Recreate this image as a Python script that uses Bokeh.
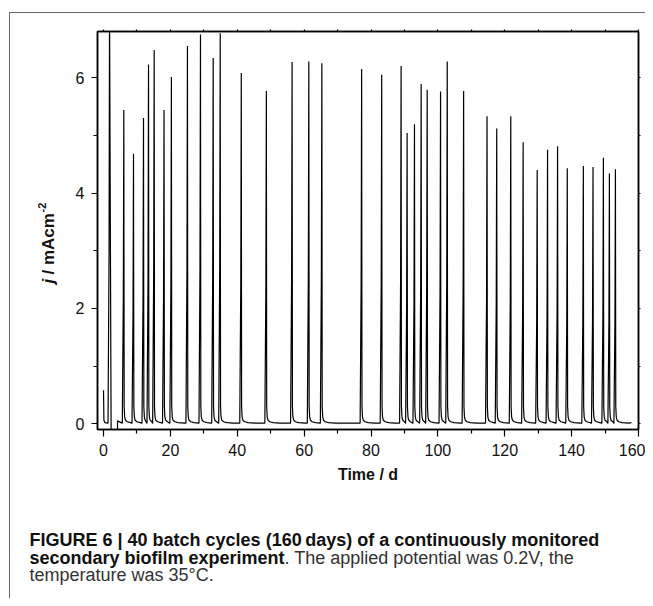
import math
from bokeh.plotting import figure
from bokeh.layouts import column, row
from bokeh.models import Range1d, LinearAxis, FixedTicker, Label
from bokeh.embed import file_html
from bokeh.resources import INLINE

# ---------------- data ----------------
pre_t = [0.0]
pre_j = [0.58]
peak_t = [1.8, 6.07, 8.97, 11.96, 13.46, 15.15, 18.1, 20.3, 25.1, 29.0,
          32.8, 34.9, 41.2, 48.7, 56.4, 61.4, 65.3, 77.2, 83.2, 89.0,
          90.8, 93.0, 95.0, 96.8, 100.8, 102.8, 107.7, 114.7, 117.6, 121.8,
          125.5, 129.7, 132.8, 135.8, 138.7, 143.5, 146.4, 149.5, 151.3, 153.1]
peak_j = [7.2, 5.44, 4.68, 5.30, 6.23, 6.48, 5.44, 6.01, 6.55, 6.75,
          6.34, 6.77, 6.08, 5.77, 6.27, 6.28, 6.25, 6.15, 6.05, 6.20,
          5.04, 5.19, 5.89, 5.79, 5.76, 6.28, 5.77, 5.33, 5.12, 5.33,
          4.88, 4.40, 4.75, 4.81, 4.43, 4.47, 4.45, 4.61, 4.34, 4.41]
dip_t = [2.3, 4.1, 4.2]
dip_j = [-0.6, -0.6, 0.05]
end_t = 157.9
end_j = 0.02

x_ticks = [0, 20, 40, 60, 80, 100, 120, 140, 160]
x_minor = [10, 30, 50, 70, 90, 110, 130, 150]
y_ticks = [0, 2, 4, 6]
y_minor = [1, 3, 5]

x_title = "Time / d"
caption_1 = "FIGURE 6 | 40 batch cycles (160\u2009days) of a continuously monitored"
caption_2b = "secondary biofilm experiment"
caption_2n = ". The applied potential was 0.2V, the"
caption_3 = "temperature was 35\u00b0C."

# ---------------- build the trace ----------------
t_pts, j_pts = [], []
t_pts += [pre_t[0], pre_t[0] + 0.12, pre_t[0] + 0.4]
j_pts += [pre_j[0], 0.06, 0.02]

rise = [(-0.45, 0.0), (-0.15, 0.4), (0.0, 1.0)]
tail = [(0.1, 0.3), (0.25, 0.12), (0.5, 0.06), (1.0, 0.035), (2.0, 0.02), (4.0, 0.01)]
base = 0.01
for i, (tp, h) in enumerate(zip(peak_t, peak_j)):
    for dt, f in rise:
        t_pts.append(tp + dt)
        j_pts.append(base + f * (h - base) if f > 0 else base)
    nxt = peak_t[i + 1] - 0.5 if i + 1 < len(peak_t) else end_t
    if i == 0:
        t_pts += dip_t
        j_pts += dip_j
    else:
        for dt, v in tail:
            if tp + dt < nxt:
                t_pts.append(tp + dt)
                j_pts.append(v)
    if i + 1 < len(peak_t):
        t_pts.append(nxt)
        j_pts.append(base)
t_pts.append(end_t)
j_pts.append(end_j)

# ---------------- layout geometry (page pixels) ----------------
LEFT_W = 70         # strip holding the y title
FL, FR, FT, FB = 97, 638, 31, 429   # plot frame
MAIN_BOTTOM = 495
PAGE_W, PAGE_H = 645, 598
FONT = "Liberation Sans"
FRAME_COLOR = "#6a6a6a"


def blank(width, height, x0, x1, y_bottom, y_top, top=0, bottom=0):
    f = figure(width=width, height=height, output_backend="svg", toolbar_location=None,
               x_range=Range1d(x0, x1), y_range=Range1d(y_bottom, y_top),
               x_axis_location=None, y_axis_location=None)
    f.min_border_left = 0
    f.min_border_right = 0
    f.min_border_top = top
    f.min_border_bottom = bottom
    f.grid.visible = False
    f.outline_line_color = None
    f.background_fill_color = None
    f.border_fill_color = None
    return f


# left strip (frame kept level with the plot frame): data y = page y
left = blank(LEFT_W, MAIN_BOTTOM, 0, LEFT_W, FB, FT, top=FT, bottom=MAIN_BOTTOM - FB)
YB = 283
left.add_layout(Label(x=48, y=YB, text="j", text_font=FONT, angle=math.pi / 2,
                      text_font_size="17px", text_font_style="bold italic",
                      text_align="left", text_baseline="middle", text_color="#111111"))
left.add_layout(Label(x=48, y=YB - 9, text="/ mAcm", text_font=FONT, angle=math.pi / 2,
                      text_font_size="17px", text_font_style="bold",
                      text_align="left", text_baseline="middle", text_color="#111111"))
left.add_layout(Label(x=41, y=YB - 71, text="-2", text_font=FONT, angle=math.pi / 2,
                      text_font_size="11px", text_font_style="bold",
                      text_align="left", text_baseline="middle", text_color="#111111"))

# main plot
X0, X1 = -1.8, 160.0
Y0, Y1 = -0.1, 6.8
p = figure(width=PAGE_W - LEFT_W, height=MAIN_BOTTOM, output_backend="svg", toolbar_location=None,
           x_range=Range1d(X0, X1), y_range=Range1d(Y0, Y1),
           x_axis_location=None, y_axis_location=None)
p.min_border_left = FL - LEFT_W
p.min_border_right = PAGE_W - FR
p.min_border_top = FT
p.min_border_bottom = MAIN_BOTTOM - FB
p.grid.visible = False
p.outline_line_color = "black"
p.outline_line_width = 1.5
p.background_fill_color = "white"
p.border_fill_color = None


def style_axis(ax, ticks, minor, labels=True, tout=6, mout=3):
    ax.ticker = FixedTicker(ticks=ticks, minor_ticks=minor)
    ax.axis_line_color = "black"
    ax.axis_line_width = 1.5
    ax.major_tick_line_color = "black"
    ax.major_tick_line_width = 1.2
    ax.minor_tick_line_color = "black"
    ax.minor_tick_line_width = 1.2
    ax.major_tick_in = 0
    ax.minor_tick_in = 0
    ax.major_tick_out = tout
    ax.minor_tick_out = mout
    ax.major_label_text_font = FONT
    ax.major_label_text_font_size = "16px"
    ax.major_label_text_color = "#111111" if labels else None
    ax.major_label_standoff = 7
    ax.axis_label = None


bx = LinearAxis()
style_axis(bx, x_ticks, x_minor, tout=7, mout=4)
bx.axis_label = x_title
bx.axis_label_text_font = FONT
bx.axis_label_text_font_size = "16px"
bx.axis_label_text_font_style = "bold"
bx.axis_label_text_color = "#111111"
bx.axis_label_standoff = 7
p.add_layout(bx, "below")
ly = LinearAxis()
style_axis(ly, y_ticks, y_minor, tout=6, mout=4)
p.add_layout(ly, "left")
tx = LinearAxis()
style_axis(tx, x_ticks + x_minor, [], labels=False, tout=2, mout=0)
tx.major_label_text_font_size = "0px"
p.add_layout(tx, "above")
ry = LinearAxis()
style_axis(ry, y_ticks + y_minor, [], labels=False, tout=2, mout=0)
ry.major_label_text_font_size = "0px"
p.add_layout(ry, "right")

p.line(t_pts, j_pts, line_color="black", line_width=1.2)

# caption strip: data y = page y
cap = blank(PAGE_W, PAGE_H - MAIN_BOTTOM, 0, PAGE_W, PAGE_H, MAIN_BOTTOM)
CX = 29
cap.add_layout(Label(x=CX, y=539, text=caption_1, text_font=FONT, text_font_size="18px",
                     text_font_style="bold", text_align="left", text_baseline="alphabetic",
                     text_color="#111111"))
cap.add_layout(Label(x=CX, y=557, text=caption_2b, text_font=FONT, text_font_size="18px",
                     text_font_style="bold", text_align="left", text_baseline="alphabetic",
                     text_color="#111111"))
cap.add_layout(Label(x=284, y=557, text=caption_2n, text_font=FONT, text_font_size="18px",
                     text_font_style="normal", text_align="left", text_baseline="alphabetic",
                     text_color="#333333"))
cap.add_layout(Label(x=CX, y=574, text=caption_3, text_font=FONT, text_font_size="18px",
                     text_font_style="normal", text_align="left", text_baseline="alphabetic",
                     text_color="#333333"))

# outer figure frame: left and top edges, drawn as the layout's background
frame_css = {
    "background-image": "linear-gradient(%s, %s), linear-gradient(%s, %s)"
                        % (FRAME_COLOR, FRAME_COLOR, FRAME_COLOR, FRAME_COLOR),
    "background-size": "1px %dpx, %dpx 1px" % (PAGE_H, PAGE_W),
    "background-position": "9px 12px, 9px 12px",
    "background-repeat": "no-repeat",
}
layout = column(row(left, p, spacing=0), cap, spacing=0, styles=frame_css)
open("out.html", "w").write(file_html(layout, INLINE))
